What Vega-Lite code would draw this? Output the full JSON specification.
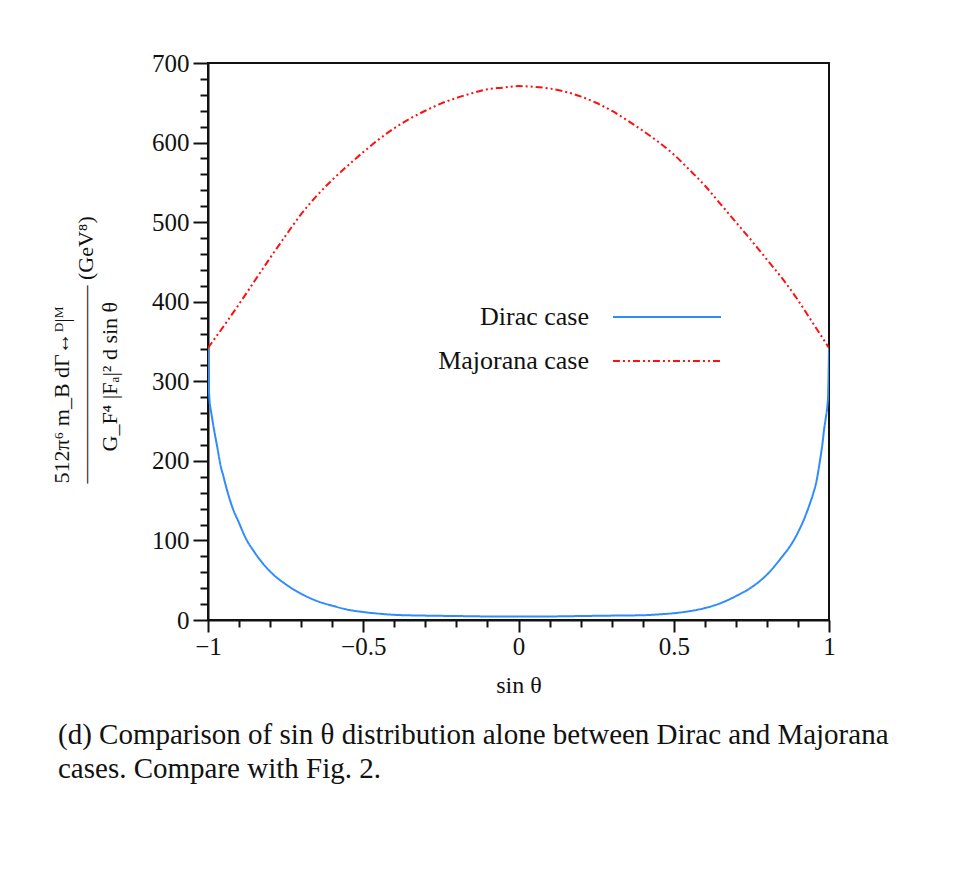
{
  "$schema": "https://vega.github.io/schema/vega-lite/v6.json",
  "width": 621,
  "height": 557,
  "autosize": {"type": "none"},
  "padding": {"left": 208, "top": 63, "right": 131, "bottom": 260},
  "background": "white",
  "config": {
    "font": "Liberation Serif",
    "view": {"stroke": "#111111", "strokeWidth": 2},
    "axis": {
      "domainColor": "#111111", "domainWidth": 2,
      "tickColor": "#111111", "tickWidth": 2,
      "labelColor": "#111111", "titleColor": "#111111",
      "labelFont": "Liberation Serif", "titleFont": "Liberation Serif",
      "labelFontSize": 25, "titleFontWeight": "normal", "grid": false
    }
  },
  "title": {
    "text": ["(d) Comparison of sin θ distribution alone between Dirac and Majorana", "cases. Compare with Fig. 2."],
    "orient": "bottom", "anchor": "start", "frame": "group",
    "dx": -150, "offset": 24, "fontSize": 29, "font": "Liberation Serif",
    "fontWeight": "normal", "color": "#111111", "lineHeight": 34
  },
  "data": {"values": [
    {"case": "Dirac case", "s": -1.0, "v": 342},
    {"case": "Dirac case", "s": -0.998, "v": 300},
    {"case": "Dirac case", "s": -0.995, "v": 276},
    {"case": "Dirac case", "s": -0.99, "v": 262},
    {"case": "Dirac case", "s": -0.98, "v": 238},
    {"case": "Dirac case", "s": -0.97, "v": 217},
    {"case": "Dirac case", "s": -0.96, "v": 195},
    {"case": "Dirac case", "s": -0.95, "v": 180},
    {"case": "Dirac case", "s": -0.94, "v": 165},
    {"case": "Dirac case", "s": -0.92, "v": 140},
    {"case": "Dirac case", "s": -0.9, "v": 122},
    {"case": "Dirac case", "s": -0.88, "v": 104},
    {"case": "Dirac case", "s": -0.85, "v": 85},
    {"case": "Dirac case", "s": -0.8, "v": 61},
    {"case": "Dirac case", "s": -0.75, "v": 45},
    {"case": "Dirac case", "s": -0.7, "v": 33},
    {"case": "Dirac case", "s": -0.65, "v": 24},
    {"case": "Dirac case", "s": -0.6, "v": 18},
    {"case": "Dirac case", "s": -0.55, "v": 13},
    {"case": "Dirac case", "s": -0.5, "v": 10},
    {"case": "Dirac case", "s": -0.45, "v": 8},
    {"case": "Dirac case", "s": -0.4, "v": 6.5},
    {"case": "Dirac case", "s": -0.3, "v": 5.5},
    {"case": "Dirac case", "s": -0.2, "v": 5},
    {"case": "Dirac case", "s": -0.1, "v": 4.5},
    {"case": "Dirac case", "s": 0.0, "v": 4.5},
    {"case": "Dirac case", "s": 0.1, "v": 4.5},
    {"case": "Dirac case", "s": 0.2, "v": 5},
    {"case": "Dirac case", "s": 0.3, "v": 5.5},
    {"case": "Dirac case", "s": 0.4, "v": 6},
    {"case": "Dirac case", "s": 0.45, "v": 7},
    {"case": "Dirac case", "s": 0.5, "v": 8.5},
    {"case": "Dirac case", "s": 0.55, "v": 11},
    {"case": "Dirac case", "s": 0.6, "v": 15},
    {"case": "Dirac case", "s": 0.65, "v": 21},
    {"case": "Dirac case", "s": 0.7, "v": 30},
    {"case": "Dirac case", "s": 0.75, "v": 41},
    {"case": "Dirac case", "s": 0.8, "v": 57},
    {"case": "Dirac case", "s": 0.85, "v": 80},
    {"case": "Dirac case", "s": 0.88, "v": 96},
    {"case": "Dirac case", "s": 0.9, "v": 110},
    {"case": "Dirac case", "s": 0.92, "v": 127},
    {"case": "Dirac case", "s": 0.94, "v": 148},
    {"case": "Dirac case", "s": 0.95, "v": 160},
    {"case": "Dirac case", "s": 0.96, "v": 175},
    {"case": "Dirac case", "s": 0.97, "v": 198},
    {"case": "Dirac case", "s": 0.98, "v": 225},
    {"case": "Dirac case", "s": 0.984, "v": 239},
    {"case": "Dirac case", "s": 0.99, "v": 255},
    {"case": "Dirac case", "s": 0.995, "v": 270},
    {"case": "Dirac case", "s": 0.997, "v": 281},
    {"case": "Dirac case", "s": 1.0, "v": 342},
    {"case": "Majorana case", "s": -1.0, "v": 342},
    {"case": "Majorana case", "s": -0.95, "v": 369},
    {"case": "Majorana case", "s": -0.9, "v": 397},
    {"case": "Majorana case", "s": -0.85, "v": 426},
    {"case": "Majorana case", "s": -0.8, "v": 455},
    {"case": "Majorana case", "s": -0.75, "v": 483},
    {"case": "Majorana case", "s": -0.7, "v": 510},
    {"case": "Majorana case", "s": -0.65, "v": 533},
    {"case": "Majorana case", "s": -0.6, "v": 553},
    {"case": "Majorana case", "s": -0.55, "v": 571},
    {"case": "Majorana case", "s": -0.5, "v": 588},
    {"case": "Majorana case", "s": -0.45, "v": 604},
    {"case": "Majorana case", "s": -0.4, "v": 618},
    {"case": "Majorana case", "s": -0.35, "v": 630},
    {"case": "Majorana case", "s": -0.3, "v": 640},
    {"case": "Majorana case", "s": -0.25, "v": 649},
    {"case": "Majorana case", "s": -0.2, "v": 656},
    {"case": "Majorana case", "s": -0.15, "v": 662},
    {"case": "Majorana case", "s": -0.1, "v": 667},
    {"case": "Majorana case", "s": -0.05, "v": 669},
    {"case": "Majorana case", "s": 0.0, "v": 671},
    {"case": "Majorana case", "s": 0.05, "v": 670},
    {"case": "Majorana case", "s": 0.1, "v": 668},
    {"case": "Majorana case", "s": 0.15, "v": 664},
    {"case": "Majorana case", "s": 0.2, "v": 658},
    {"case": "Majorana case", "s": 0.25, "v": 650},
    {"case": "Majorana case", "s": 0.3, "v": 640},
    {"case": "Majorana case", "s": 0.35, "v": 628},
    {"case": "Majorana case", "s": 0.4, "v": 615},
    {"case": "Majorana case", "s": 0.45, "v": 601},
    {"case": "Majorana case", "s": 0.5, "v": 585},
    {"case": "Majorana case", "s": 0.55, "v": 566},
    {"case": "Majorana case", "s": 0.6, "v": 546},
    {"case": "Majorana case", "s": 0.65, "v": 523},
    {"case": "Majorana case", "s": 0.7, "v": 500},
    {"case": "Majorana case", "s": 0.75, "v": 477},
    {"case": "Majorana case", "s": 0.8, "v": 453},
    {"case": "Majorana case", "s": 0.85, "v": 429},
    {"case": "Majorana case", "s": 0.9, "v": 402},
    {"case": "Majorana case", "s": 0.95, "v": 372},
    {"case": "Majorana case", "s": 1.0, "v": 342}
  ]},
  "mark": {"type": "line", "strokeWidth": 2, "interpolate": "monotone", "clip": true},
  "encoding": {
    "x": {
      "field": "s", "type": "quantitative",
      "scale": {"domain": [-1, 1], "nice": false, "zero": false},
      "axis": {
        "title": "sin θ", "titleFontSize": 24, "titleFontStyle": "normal", "titlePadding": 14,
        "values": [-1, -0.9, -0.8, -0.7, -0.6, -0.5, -0.4, -0.3, -0.2, -0.1, 0, 0.1, 0.2, 0.3, 0.4, 0.5, 0.6, 0.7, 0.8, 0.9, 1],
        "tickSize": {"condition": {"test": "abs(datum.value*2 - round(datum.value*2)) < 0.000001", "value": 12}, "value": 7},
        "labelExpr": "abs(datum.value*2 - round(datum.value*2)) < 0.000001 ? format(datum.value, '.1~f') : ''",
        "labelPadding": 2, "labelFlush": false, "labelOverlap": false
      }
    },
    "y": {
      "field": "v", "type": "quantitative",
      "scale": {"domain": [0, 700], "nice": false},
      "axis": {
        "title": ["512π⁶ m_B dΓ↔ᴰ|ᴹ", "—————————  (GeV⁸)", "\u2800\u2800G_F⁴ |Fₐ|² d sin θ"],
        "titleFontSize": 22, "titlePadding": 30, "titleLineHeight": 24,
        "titleAlign": "left", "titleY": 420,
        "values": [0, 20, 40, 60, 80, 100, 120, 140, 160, 180, 200, 220, 240, 260, 280, 300, 320, 340, 360, 380, 400, 420, 440, 460, 480, 500, 520, 540, 560, 580, 600, 620, 640, 660, 680, 700],
        "tickSize": {"condition": {"test": "datum.value % 100 === 0", "value": 15}, "value": 8},
        "labelExpr": "datum.value % 100 === 0 ? datum.label : ''",
        "labelPadding": 4, "labelOverlap": false
      }
    },
    "color": {
      "field": "case", "type": "nominal",
      "scale": {"domain": ["Dirac case", "Majorana case"], "range": ["#2f8cff", "#ff1010"]},
      "legend": {
        "orient": "none", "legendX": 446, "legendY": 241, "title": null,
        "symbolType": "M-5,0H5", "symbolSize": 467, "symbolStrokeWidth": 2,
        "labelAlign": "right", "labelOffset": -91, "labelFontSize": 26,
        "labelFont": "Liberation Serif", "labelColor": "#111111",
        "rowPadding": 18, "padding": 0, "labelLimit": 0
      }
    },
    "strokeDash": {
      "field": "case", "type": "nominal",
      "scale": {"domain": ["Dirac case", "Majorana case"], "range": [[1, 0], [7, 3, 2, 3, 2, 3]]},
      "legend": {
        "orient": "none", "legendX": 446, "legendY": 241, "title": null,
        "symbolType": "M-5,0H5", "symbolSize": 467, "symbolStrokeWidth": 2,
        "labelAlign": "right", "labelOffset": -91, "labelFontSize": 26,
        "labelFont": "Liberation Serif", "labelColor": "#111111",
        "rowPadding": 18, "padding": 0, "labelLimit": 0
      }
    }
  }
}
